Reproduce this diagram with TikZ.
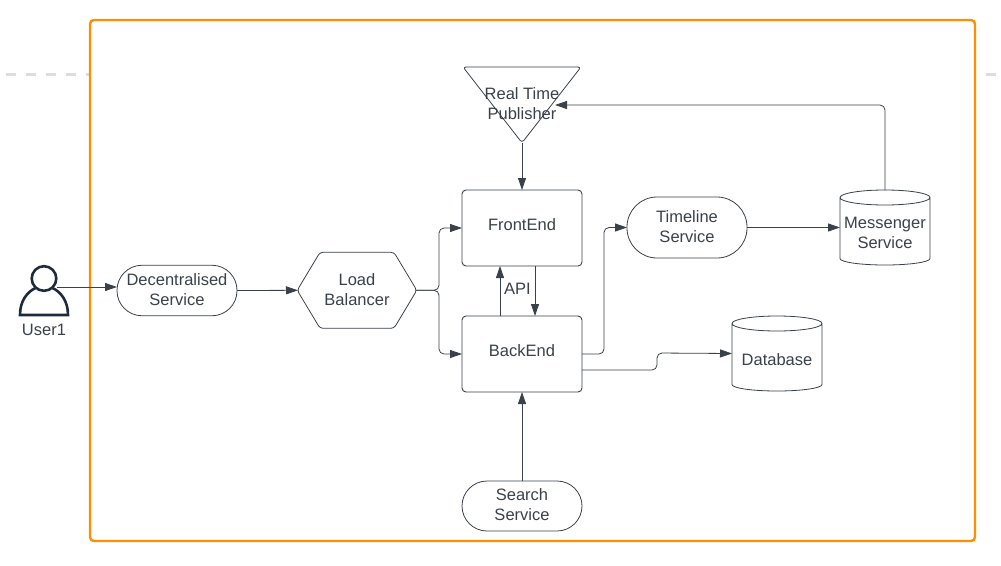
\documentclass[tikz,border=0pt]{standalone}
\usepackage{fontspec}
\setmainfont{Liberation Sans}
\usetikzlibrary{arrows.meta,calc}
\definecolor{ink}{HTML}{3A414A}
\definecolor{frame}{HTML}{FF8F00}
\definecolor{navy}{HTML}{1E2B3C}
\definecolor{dashgrey}{HTML}{DDDDDD}
\tikzset{
  x=1pt,y=-1pt,
  label text/.style={text=ink,font=\fontsize{16.5}{20}\selectfont,align=center,inner sep=0pt,outer sep=0pt},
  says/.style 2 args={label={[label text,yshift=#1]center:{#2}}},
  procbox/.style={label text,draw=ink,line width=0.9pt,rounded corners=4pt,minimum width=120pt,minimum height=76pt},
  pill/.style={label text,draw=ink,line width=0.8pt,minimum width=120pt},
  ghost/.style={label text},
  outline/.style={draw=ink,line width=0.8pt,line join=round},
  conn/.style={draw=ink,line width=0.8pt,rounded corners=5pt,-{Triangle[length=12pt,width=8pt]}},
}
\begin{document}
\begin{tikzpicture}
\useasboundingbox (0,0) rectangle (1001,565);
% background dashed line
\draw[dashgrey,line width=3pt,dash pattern=on 10pt off 10pt] (6,74) -- (90,74);
\draw[dashgrey,line width=3pt] (986,74) -- (996,74);
% frame
\draw[frame,line width=2.4pt,rounded corners=4pt] (90,20) rectangle (975,541);

% user
\draw[navy,line width=2.6pt] (44,278.5) circle[radius=12.3];
\draw[navy,line width=2.6pt] (52.5,288) .. controls (61,292) and (68,301) .. (68,315) -- (20,315) .. controls (20,301) and (27,292) .. (35.5,288);
\coordinate (userport) at (57,287);
\node[label text] (userlabel) at (44,330) {User1};

% pills
\node[pill,rounded corners=25pt,minimum height=50.5pt,says={1pt}{Decentralised\\Service}] (dec) at (177,290.5) {};
\node[pill,rounded corners=25pt,minimum height=50pt,says={1pt}{Search\\Service}] (search) at (522,506) {};
\node[pill,rounded corners=30pt,minimum height=61pt,says={1pt}{Timeline\\Service}] (time) at (687,227.5) {};

% boxes
\node[procbox,says={3.2pt}{FrontEnd}] (front) at (522,228) {};
\node[procbox,says={3.2pt}{BackEnd}] (back) at (522,354) {};

% load balancer
\node[ghost,minimum width=118pt,minimum height=76pt,says={1pt}{Load\\Balancer}] (lb) at (357,290.3) {};
\draw[outline,rounded corners=3pt] ($(lb.west)+(-0.8,0)$) -- ($(lb.north west)+(22,0)$) -- ($(lb.north east)+(-22,0)$) -- ($(lb.east)+(0.8,0)$) -- ($(lb.south east)+(-22,0)$) -- ($(lb.south west)+(22,0)$) -- cycle;

% real time publisher
\coordinate (tl) at (463,67);
\coordinate (tr) at (581,67);
\coordinate (tb) at (522,142.8);
\draw[outline,rounded corners=3pt] (tb) -- (tl) -- (tr) -- cycle;
\node[ghost] (pub) at (522,104) {Real Time\\Publisher};

% cylinders
\node[ghost,minimum width=90pt,minimum height=75pt] (msg) at (885,227.5) {};
\node[ghost,minimum width=90pt,minimum height=75pt] (db) at (777,353.5) {};
\foreach \c in {msg,db}{
  \draw[outline] ($(\c.north west)+(0,7.5)$) arc[start angle=180,end angle=360,x radius=45pt,y radius=7.5pt]
    arc[start angle=0,end angle=180,x radius=45pt,y radius=7.5pt] -- ($(\c.south west)+(0,-6.5)$)
    arc[start angle=180,end angle=360,x radius=45pt,y radius=6.5pt] -- ($(\c.north east)+(0,7.5)$);
}
\node[label text] (msgtext) at (885,233) {Messenger\\Service};
\node[label text] (dbtext) at (777,359.5) {Database};

% connectors
\draw[conn] (userport) -- (userport -| dec.west);
\draw[conn] (dec.east) -- (lb.west);
\coordinate (lbbranch) at (439,290.3);
\draw[conn] (lb.east) -- (lbbranch) -- (lbbranch |- front.west) -- (front.west);
\draw[conn] (lb.east) -- (lbbranch) -- (lbbranch |- back.west) -- (back.west);
\draw[conn] (tb) -- (front.north);
\draw[conn] ($(back.north)+(-22,0)$) -- ($(front.south)+(-22,0)$);
\draw[conn] ($(front.south)+(13,0)$) -- ($(back.north)+(13,0)$);
\node[label text] (api) at (517.5,289) {API};
\draw[conn] (search.north) -- (back.south);
\draw[conn] (back.east) -- (604,354) -- (604,227.5) -- (time.west);
\draw[conn] (582,370) -- (657,370) -- (657,353) -- (db.west);
\draw[conn] (time.east) -- (time.east -| msg.west);
\draw[conn] (msg.north) -- (885,105) -- (555,105);
\end{tikzpicture}
\end{document}
